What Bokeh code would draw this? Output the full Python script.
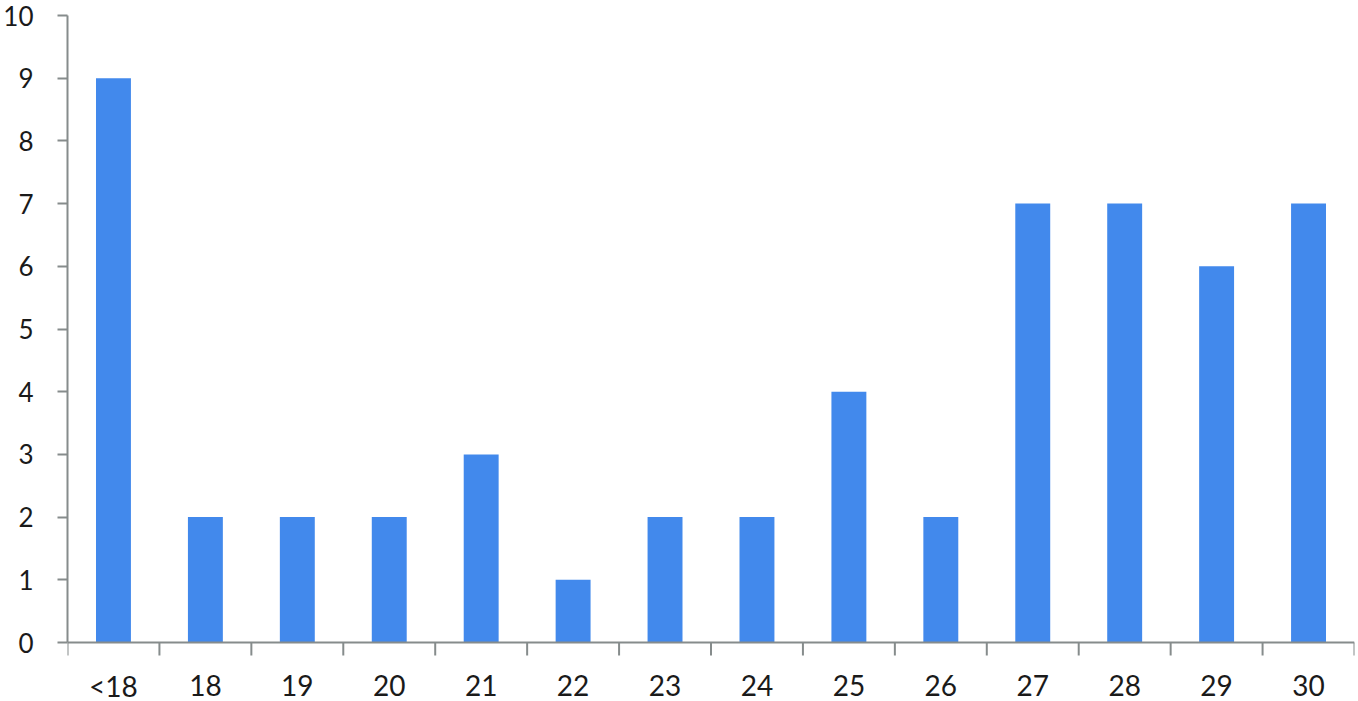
import math
from bokeh.plotting import figure
from bokeh.models import FixedTicker, Range1d, ColumnDataSource
from bokeh.core.properties import value
from bokeh.embed import file_html
from bokeh.resources import INLINE

categories = ["<18", "18", "19", "20", "21", "22", "23", "24", "25", "26", "27", "28", "29", "30"]
counts = [9, 2, 2, 2, 3, 1, 2, 2, 4, 2, 7, 7, 6, 7]
y_ticks = [0, 1, 2, 3, 4, 5, 6, 7, 8, 9, 10]

positions = list(range(1, len(categories) + 1))
boundaries = [p - 0.5 for p in positions] + [positions[-1] + 0.5]

# frame spans 15px..701px; y=10 at top, y=0 placed 59px above the bottom
top_px, zero_px, bottom_px = 15, 642, 701
y_min = -(bottom_px - zero_px) / ((zero_px - top_px) / 10)

p = figure(width=1358, height=701, output_backend="svg", toolbar_location=None,
           x_axis_location=None,
           x_range=Range1d(0.5, len(categories) + 0.5), y_range=Range1d(y_min, 10),
           min_border_left=67, min_border_right=4, min_border_top=top_px, min_border_bottom=0)
p.outline_line_color = None
p.xgrid.grid_line_color = None
p.ygrid.grid_line_color = None

font = "Lato"
axis_color = "#868c8c"

src = ColumnDataSource(dict(x=positions, top=counts, base=[0] * len(positions), label=categories))
p.vbar(x="x", top="top", bottom=0, width=0.38, source=src, fill_color="#4289EC", line_color=None)

# category axis: baseline, boundary ticks and labels
p.segment(x0=[boundaries[0]], y0=[0], x1=[boundaries[-1]], y1=[0], line_color=axis_color, line_width=2)
p.ray(x=boundaries, y=[0] * len(boundaries), length=13, length_units="screen",
      angle=-math.pi / 2, line_color=axis_color, line_width=2)
p.text(x="x", y="base", text="label", source=src, y_offset=43,
       text_align="center", text_baseline="alphabetic",
       text_font=value(font), text_font_size="28px", text_color="#1a1a1a")

ya = p.yaxis[0]
ya.ticker = FixedTicker(ticks=y_ticks)
ya.bounds = (0, 10)
ya.minor_tick_line_color = None
ya.major_tick_line_color = axis_color
ya.major_tick_line_width = 2
ya.major_tick_out = 10
ya.major_tick_in = 0
ya.axis_line_color = axis_color
ya.axis_line_width = 2
ya.major_label_standoff = 24
ya.major_label_text_font = font
ya.major_label_text_font_size = "26px"
ya.major_label_text_color = "#1a1a1a"

open("out.html", "w").write(file_html(p, INLINE))
